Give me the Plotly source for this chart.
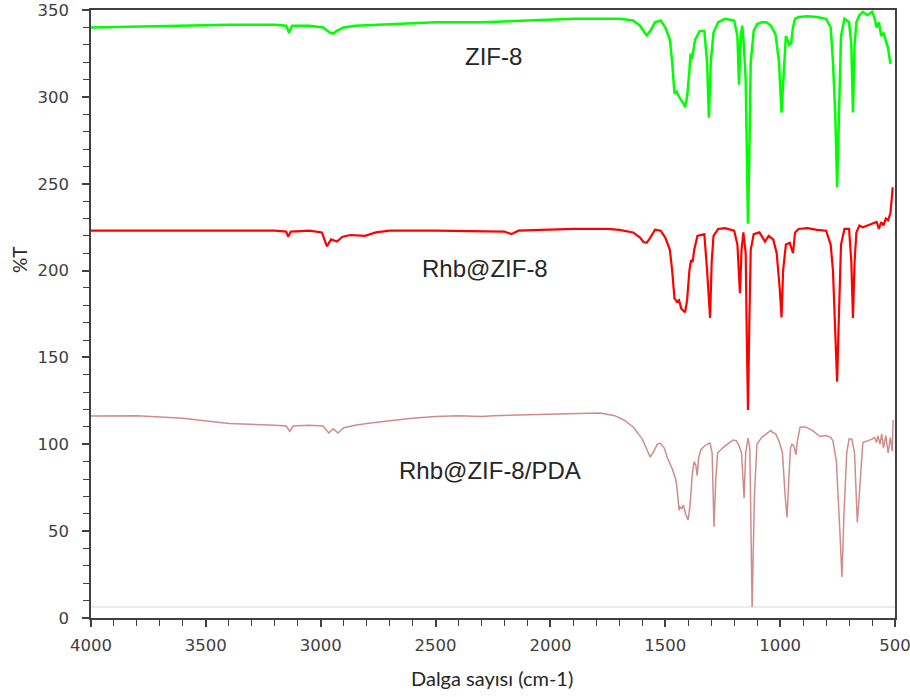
import plotly.graph_objects as go

# ---- ZIF-8 (green) ----
wn_zif = [4000, 3800, 3600, 3400, 3200, 3150, 3138, 3125, 3050, 2990, 2960, 2945, 2930, 2900, 2850,
          2700, 2500, 2300, 2100, 1900, 1750, 1700, 1640, 1610, 1595, 1581, 1565, 1545, 1520, 1500,
          1480, 1470, 1460, 1450, 1440, 1430, 1420, 1414, 1405, 1395, 1390, 1384, 1378, 1370, 1350,
          1330, 1318, 1310, 1302, 1290, 1270, 1240, 1200, 1186, 1179, 1172, 1165, 1158, 1150, 1145,
          1140, 1135, 1128, 1115, 1100, 1080, 1060, 1040, 1020, 1005, 998, 994, 988, 975, 960,
          952, 948, 944, 935, 920, 880, 840, 800, 780, 770, 760, 752, 745, 735, 720,
          700, 690, 683, 676, 668, 655, 640, 620, 600, 590, 580, 570, 560, 550, 540,
          530, 520]
t_zif = [340, 340.5, 341, 341.5, 341.5, 341, 337, 341, 341, 340, 337, 336.5, 338, 340, 341,
         342, 343, 343, 344, 345, 345, 345, 344, 341, 338, 335.5, 338, 343, 344, 340,
         333, 320, 302, 303, 300, 298, 296, 294, 300, 315, 325, 322, 328, 333, 338,
         338, 320, 288, 320, 337, 343, 345, 344, 335, 307, 335, 341, 330, 310, 260,
         227, 260, 320, 338, 342, 343, 343, 341, 336, 320, 300, 291, 305, 335, 330,
         331, 336, 340, 345, 346, 346.5, 346, 345, 340, 320, 290, 248, 290, 335, 345,
         343, 330, 291, 330, 343, 347, 349, 347, 349, 346, 340, 343, 335, 337, 333,
         328, 319]

# ---- Rhb@ZIF-8 (red) ----
wn_rhb = [4000, 3800, 3600, 3400, 3200, 3150, 3142, 3130, 3050, 2995, 2973, 2955, 2929, 2905, 2870,
          2807, 2760, 2700, 2500, 2200, 2170, 2140, 1900, 1750, 1700, 1640, 1610, 1595, 1581, 1565,
          1545, 1520, 1500, 1480, 1470, 1460, 1449, 1440, 1430, 1414, 1405, 1395, 1388, 1381, 1374,
          1360, 1330, 1318, 1305, 1298, 1290, 1270, 1240, 1200, 1186, 1175, 1168, 1160, 1150, 1145,
          1140, 1134, 1128, 1115, 1090, 1066, 1050, 1030, 1015, 1002, 994, 987, 975, 958, 948,
          944, 935, 920, 880, 840, 800, 780, 770, 760, 752, 745, 735, 720, 700, 690,
          683, 676, 668, 655, 640, 620, 600, 580, 570, 560, 550, 540, 530, 520, 515,
          510]
t_rhb = [223, 223, 223, 223, 223, 222.5, 219.5, 222.5, 223, 222, 214, 218, 216.7, 219.5, 220.5,
         220, 222, 223, 223, 222.5, 221, 223, 224, 224, 223.5, 222, 219, 216.5, 216, 219,
         223.5, 223, 219, 212, 200, 184, 182, 183, 178, 176, 183, 200, 206, 205, 212,
         220, 221, 200, 172.7, 205, 220, 224, 224.5, 223, 215, 187, 212, 222, 210, 160,
         119.7, 170, 212, 221, 222, 216.7, 220, 218, 210, 190, 173, 200, 215, 216, 212,
         210, 222, 224, 224.5, 223.5, 223, 215, 200, 165, 136, 170, 215, 224, 224, 205,
         172.7, 205, 222, 226, 225, 226, 227, 228, 224, 228, 226, 230, 229, 233, 240,
         248]

# ---- Rhb@ZIF-8/PDA (brown) ----
wn_pda = [4000, 3800, 3600, 3400, 3200, 3150, 3135, 3120, 3050, 2990, 2965, 2945, 2925, 2900, 2850,
          2800, 2700, 2600, 2500, 2400, 2300, 2250, 2100, 1900, 1784, 1720, 1680, 1640, 1600, 1580,
          1566, 1550, 1535, 1523, 1505, 1490, 1470, 1455, 1449, 1440, 1436, 1428, 1421, 1412, 1401,
          1392, 1383, 1375, 1367, 1361, 1355, 1345, 1320, 1305, 1296, 1288, 1280, 1272, 1250, 1220,
          1205, 1190, 1178, 1168, 1157, 1150, 1140, 1132, 1122, 1112, 1101, 1080, 1060, 1050, 1040,
          1035, 1020, 1005, 990, 978, 970, 962, 955, 948, 940, 931, 925, 913, 890, 860,
          840, 826, 800, 780, 770, 755, 740, 731, 722, 710, 700, 688, 676, 668, 664,
          660, 652, 645, 640, 620, 600, 590, 580, 575, 565, 558, 550, 540, 530, 520,
          512, 508]
t_pda = [116.3, 116.5, 115, 112, 111, 110.5, 107.5, 110.5, 111, 110.5, 106.5, 109, 106.5, 109.5, 111,
         112, 113.5, 115, 116, 116.5, 116, 116.5, 117, 117.5, 118, 116.5, 114, 110, 103, 97,
         92.7, 96, 100, 100.7, 98, 92, 86, 80, 75, 62, 64, 63, 65, 60, 56.4,
         65, 82, 90, 88, 82, 92, 97, 100, 100.6, 95, 52.4, 80, 95, 98, 101,
         102.5, 102, 99, 95, 69, 95, 103.6, 98, 6.3, 70, 100, 104, 106, 106.5, 108,
         107, 106, 102, 95, 70, 58, 80, 98, 100, 99, 94, 102, 110, 110, 108,
         106, 104.5, 105, 104, 102, 90, 50, 23.6, 60, 95, 103, 103, 95, 68, 55,
         62, 80, 95, 101, 102, 103, 104, 101, 105, 100, 106, 98, 105, 95, 104,
         96, 114]

# ---- faint baseline ----
wn_base = [4000, 500]
t_base = [6.3, 6.3]

labels = ["ZIF-8", "Rhb@ZIF-8", "Rhb@ZIF-8/PDA"]
label_x = [2246, 2285, 2263]
label_y = [323, 201, 85]

x_ticks = [4000, 3500, 3000, 2500, 2000, 1500, 1000, 500]
y_ticks = [0, 50, 100, 150, 200, 250, 300, 350]

x_title = "Dalga sayısı (cm-1)"
y_title = "%T"

fig = go.Figure()
fig.add_trace(go.Scatter(x=wn_base, y=t_base, mode="lines",
                         line=dict(color="#d9d9d9", width=1), showlegend=False, hoverinfo="skip"))
fig.add_trace(go.Scatter(x=wn_pda, y=t_pda, mode="lines", name=labels[2],
                         line=dict(color="#d08c8c", width=1.5), showlegend=False))
fig.add_trace(go.Scatter(x=wn_rhb, y=t_rhb, mode="lines", name=labels[1],
                         line=dict(color="#ff0000", width=2.2), showlegend=False))
fig.add_trace(go.Scatter(x=wn_zif, y=t_zif, mode="lines", name=labels[0],
                         line=dict(color="#00ff00", width=2.5), showlegend=False))

for txt, xx, yy in zip(labels, label_x, label_y):
    fig.add_annotation(x=xx, y=yy, text=txt, showarrow=False,
                       font=dict(family="Liberation Sans, Arial", size=24, color="#262626"))

# axis titles as paper annotations
fig.add_annotation(xref="paper", yref="paper", x=0.4988, y=-0.0987, text=x_title,
                   showarrow=False, xanchor="center", yanchor="middle",
                   font=dict(family="Lato, Open Sans", size=20, color="#262626"))
fig.add_annotation(xref="paper", yref="paper", x=-0.0883, y=0.589, text=y_title,
                   showarrow=False, textangle=-90, xanchor="center", yanchor="middle",
                   font=dict(family="Lato, Open Sans", size=19, color="#262626"))

axis_common = dict(showline=True, linecolor="#404040", linewidth=1.5, mirror=True,
                   showgrid=False, zeroline=False, ticks="outside", ticklen=7,
                   tickcolor="#404040", tickwidth=1.5, automargin=False,
                   ticklabeloverflow="allow",
                   tickfont=dict(family="DejaVu Sans", size=16.5, color="#404040"))

fig.update_layout(
    width=910, height=697,
    margin=dict(l=91, r=15, t=10, b=79),
    plot_bgcolor="white", paper_bgcolor="white",
    xaxis=dict(range=[4000.05, 499.95], tickmode="array", tickvals=x_ticks,
               ticktext=[str(v) for v in x_ticks], ticklabelstandoff=4,
               minor=dict(dtick=100, tick0=0, ticks="outside", ticklen=6, tickcolor="#404040", tickwidth=1.2),
               **axis_common),
    yaxis=dict(range=[0, 350.05], tickmode="array", tickvals=y_ticks,
               ticktext=[str(v) for v in y_ticks], ticklabelstandoff=10,
               minor=dict(dtick=10, tick0=0, ticks="outside", ticklen=6, tickcolor="#404040", tickwidth=1.2),
               **axis_common),
)

fig.write_html("out.html", config={"displayModeBar": False},
               post_script="document.body.style.margin='0';document.body.style.padding='0';")
